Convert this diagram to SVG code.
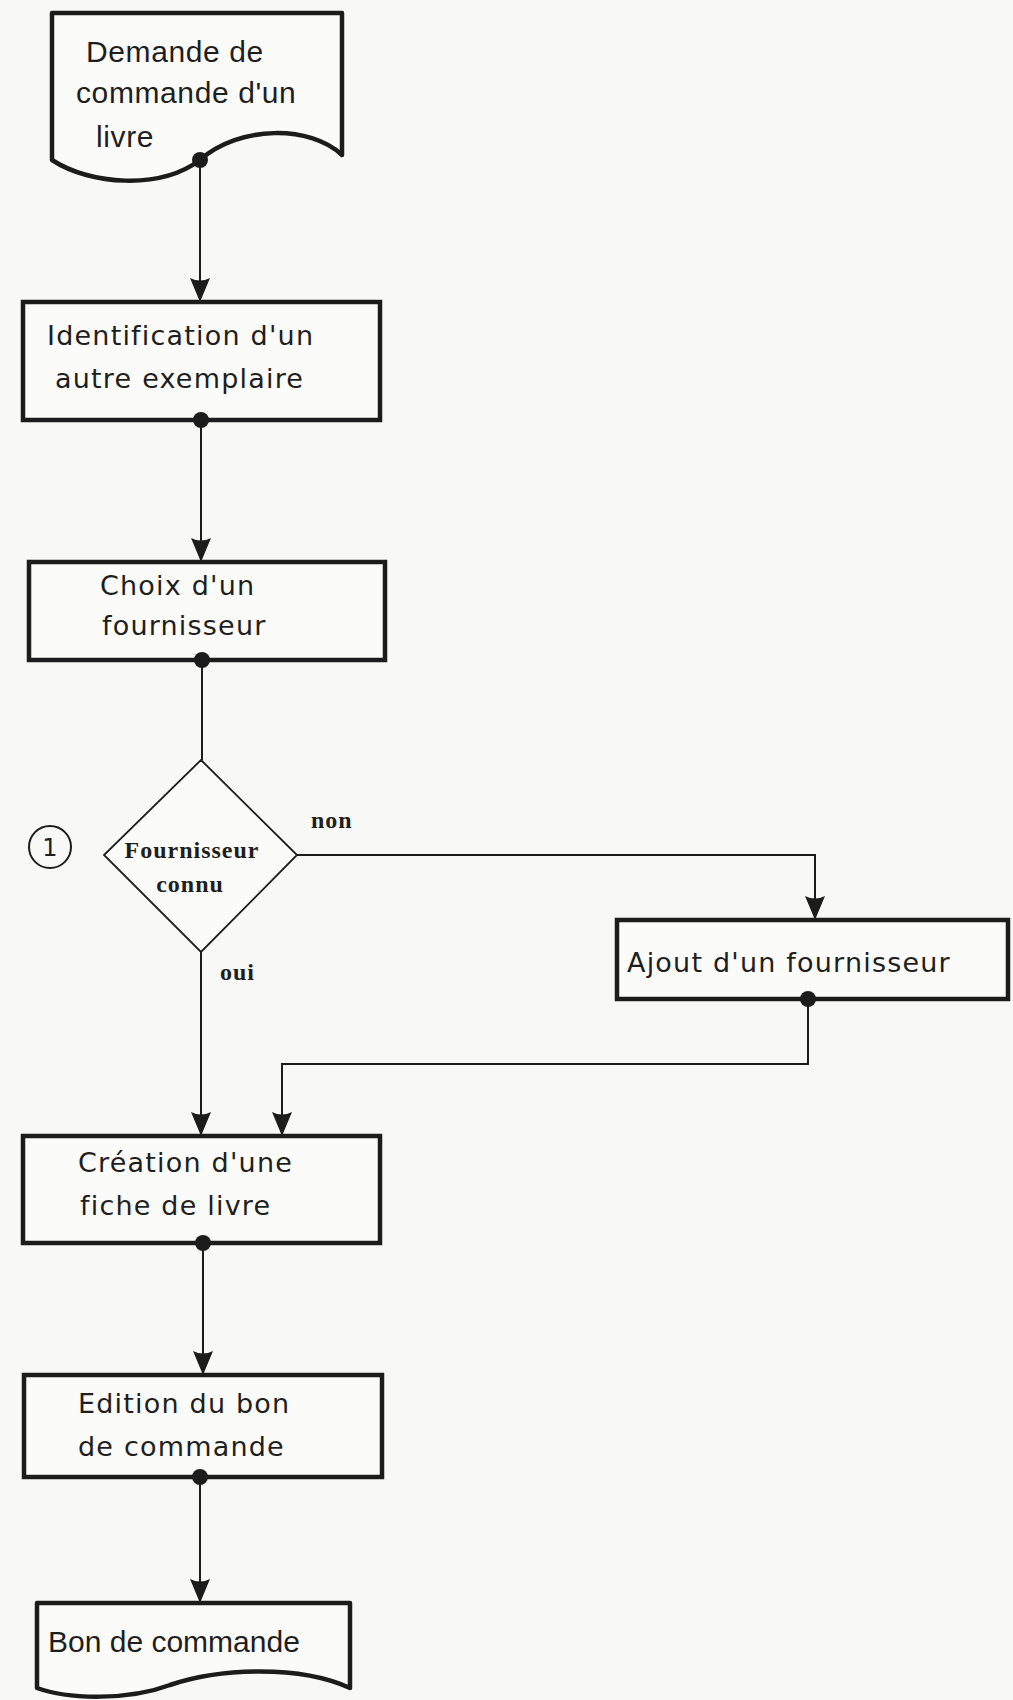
<svg xmlns="http://www.w3.org/2000/svg" width="1013" height="1700" viewBox="0 0 1013 1700">
<style>
.box{fill:#fbfbf9;stroke:#1c1c1c;stroke-width:4.5}
.doc{fill:#fbfbf9;stroke:#1c1c1c;stroke-width:4.5;stroke-linejoin:round}
.dia{fill:#fbfbf9;stroke:#1c1c1c;stroke-width:1.8}
.dot{fill:#1c1c1c}
.t{font-family:"DejaVu Sans",sans-serif;font-size:27px;letter-spacing:1.2px;fill:#1e1e1e}
.a{font-family:"Liberation Sans",Arial,sans-serif;font-size:30px;fill:#1e1e1e}
.s{font-family:"Liberation Serif","Times New Roman",serif;font-weight:bold;font-size:24px;letter-spacing:1px;fill:#1e1e1e}
.c{fill:none;stroke:#1c1c1c;stroke-width:2}
</style>
<defs>
<marker id="arr" viewBox="0 0 24 20" refX="24" refY="10" markerWidth="24" markerHeight="20" markerUnits="userSpaceOnUse" orient="auto">
<path d="M0,0 Q5,10 0,20 L24,10 Z" fill="#1c1c1c"/>
</marker>
</defs>
<rect width="1013" height="1700" fill="#f8f8f6"/>

<g id="connectors">
<path class="c" d="M200,160 V302" marker-end="url(#arr)"/>
<path class="c" d="M201,420 V562" marker-end="url(#arr)"/>
<path class="c" d="M202,660 V760"/>
<path class="c" d="M297,855 H815 V920" marker-end="url(#arr)"/>
<path class="c" d="M201,952 V1136" marker-end="url(#arr)"/>
<path class="c" d="M808,999 V1064 H282 V1136" marker-end="url(#arr)"/>
<path class="c" d="M203,1243 V1375" marker-end="url(#arr)"/>
<path class="c" d="M200,1477 V1603" marker-end="url(#arr)"/>
</g>

<g id="n1">
<path class="doc" d="M52,13 H342 V155 C310,125 240,125 200,160 C160,190 90,185 52,160 Z"/>
<text class="a" letter-spacing="0.6" x="86" y="62">Demande de</text>
<text class="a" letter-spacing="0.6" x="76" y="103">commande d'un</text>
<text class="a" letter-spacing="0.6" x="96" y="147">livre</text>
<circle class="dot" cx="200" cy="160" r="8"/>
</g>

<g id="n2">
<rect class="box" x="23" y="302" width="357" height="118"/>
<text class="t" x="47" y="345">Identification d'un</text>
<text class="t" x="55" y="388">autre exemplaire</text>
<circle class="dot" cx="201" cy="420" r="8"/>
</g>

<g id="n3">
<rect class="box" x="29" y="562" width="356" height="98"/>
<text class="t" x="100" y="595">Choix d'un</text>
<text class="t" x="102" y="635">fournisseur</text>
<circle class="dot" cx="202" cy="660" r="8"/>
</g>

<g id="n4">
<path class="dia" d="M201,760 L297,855 L201,952 L104,855 Z"/>
<text class="s" x="192" y="858" text-anchor="middle">Fournisseur</text>
<text class="s" x="190" y="892" text-anchor="middle">connu</text>
<text class="s" x="311" y="828">non</text>
<text class="s" x="220" y="980">oui</text>
</g>

<g id="label1">
<circle cx="50" cy="847" r="21" fill="none" stroke="#1c1c1c" stroke-width="2"/>
<text x="50" y="856" text-anchor="middle" font-family="DejaVu Sans, sans-serif" font-size="24" fill="#1e1e1e">1</text>
</g>

<g id="n5">
<rect class="box" x="617" y="920" width="391" height="79"/>
<text class="t" x="627" y="972">Ajout d'un fournisseur</text>
<circle class="dot" cx="808" cy="999" r="8"/>
</g>

<g id="n6">
<rect class="box" x="23" y="1136" width="357" height="107"/>
<text class="t" x="78" y="1172">Création d'une</text>
<text class="t" x="80" y="1215">fiche de livre</text>
<circle class="dot" cx="203" cy="1243" r="8"/>
</g>

<g id="n7">
<rect class="box" x="24" y="1375" width="358" height="102"/>
<text class="t" x="78" y="1413">Edition du bon</text>
<text class="t" x="78" y="1456">de commande</text>
<circle class="dot" cx="200" cy="1477" r="8"/>
</g>

<g id="n8">
<path class="doc" d="M37,1603 H350 V1688 C300,1665 220,1668 170,1685 C130,1700 70,1700 37,1688 Z"/>
<text class="a" x="48" y="1652">Bon de commande</text>
</g>
</svg>
